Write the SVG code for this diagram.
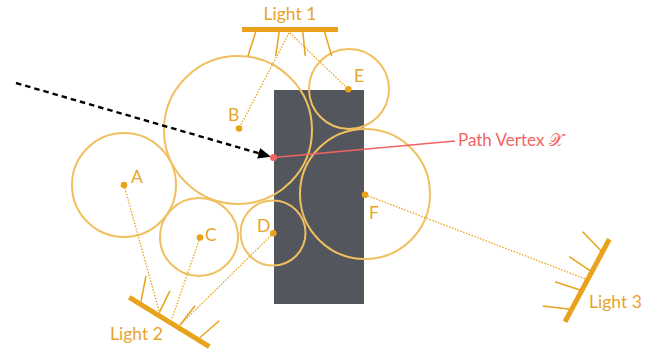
<svg xmlns="http://www.w3.org/2000/svg" width="657" height="350" viewBox="0 0 657 350">
<defs>
<style>
.lbl{font-family:Lato,"Open Sans","Liberation Sans",sans-serif;font-size:17.5px;fill:#e8a42a}
.circ{fill:none;stroke:#f0c060;stroke-width:2}
.dot{fill:#e8a21c}
.bar{stroke:#e8a21c;stroke-width:5;stroke-linecap:butt}
.tick{stroke:#e8a21c;stroke-width:1.5}
.ray{stroke:#e8a21c;stroke-width:1.3;stroke-dasharray:1.5 1.5;fill:none}
</style>
<marker id="ah2" viewBox="0 0 12 10" refX="11" refY="5" markerWidth="13" markerHeight="11" orient="auto" markerUnits="userSpaceOnUse">
<path d="M0,0 L12,5 L0,10 z" fill="#000"/>
</marker>
</defs>
<rect width="657" height="350" fill="#fff"/>
<g id="occluder"><rect x="274" y="90" width="90" height="214" fill="#53565c"/></g>
<g id="circleA"><circle class="circ" cx="124" cy="185" r="52"/><circle class="dot" cx="124" cy="185" r="3.3"/><text class="lbl" x="131" y="183">A</text></g>
<g id="circleB"><circle class="circ" cx="238" cy="130" r="74"/><circle class="dot" cx="239" cy="128.5" r="3.3"/><text class="lbl" x="228" y="121">B</text></g>
<g id="circleC"><circle class="circ" cx="199" cy="237" r="39"/><circle class="dot" cx="200" cy="237.5" r="3.3"/><text class="lbl" x="205" y="241">C</text></g>
<g id="circleD"><circle class="circ" cx="273" cy="233" r="32.5"/><circle class="dot" cx="273.3" cy="233.3" r="3.3"/><text class="lbl" x="257" y="232">D</text></g>
<g id="circleE"><circle class="circ" cx="349" cy="89" r="40"/><circle class="dot" cx="348.3" cy="89.3" r="3.3"/><text class="lbl" x="354" y="82">E</text></g>
<g id="circleF"><circle class="circ" cx="365" cy="194" r="65"/><circle class="dot" cx="365" cy="194.7" r="3.3"/><text class="lbl" x="369" y="219">F</text></g>
<g id="light1">
<line class="bar" x1="242" y1="29.5" x2="338" y2="29.5"/>
<line class="tick" x1="256" y1="31" x2="248" y2="56"/>
<line class="tick" x1="279.3" y1="31" x2="275.7" y2="56"/>
<line class="tick" x1="302.7" y1="31" x2="305.3" y2="56"/>
<line class="tick" x1="324.3" y1="31" x2="331.7" y2="56"/>
<text class="lbl" x="290" y="20" text-anchor="middle">Light 1</text>
</g>
<g id="light2">
<line class="bar" x1="129.3" y1="297.3" x2="209.3" y2="346.7"/>
<line class="tick" x1="141" y1="301.7" x2="146" y2="276"/>
<line class="tick" x1="159.3" y1="312.7" x2="170" y2="290.7"/>
<line class="tick" x1="180" y1="325" x2="195" y2="305.7"/>
<line class="tick" x1="200" y1="337.5" x2="219.3" y2="320.7"/>
<text class="lbl" x="110" y="340">Light 2</text>
</g>
<g id="light3">
<line class="bar" x1="609.3" y1="239.3" x2="565" y2="321.7"/>
<line class="tick" x1="601" y1="250.7" x2="582.7" y2="231.7"/>
<line class="tick" x1="590" y1="270.7" x2="569.3" y2="256.7"/>
<line class="tick" x1="580" y1="290" x2="555" y2="281.7"/>
<line class="tick" x1="570" y1="309.3" x2="542.7" y2="306"/>
<text class="lbl" x="589" y="308">Light 3</text>
</g>
<g id="connectors">
<line class="ray" x1="289" y1="33" x2="239" y2="128.5"/>
<line class="ray" x1="290" y1="33" x2="348.3" y2="89.3"/>
<line class="ray" x1="124" y1="185" x2="159.3" y2="311.7"/>
<line class="ray" x1="200" y1="237.5" x2="171.7" y2="319.3"/>
<line class="ray" x1="273.3" y1="233.3" x2="180" y2="325"/>
<line class="ray" x1="365" y1="194.7" x2="586.7" y2="279.3"/>
<line x1="16" y1="83" x2="270" y2="156.5" stroke="#000" stroke-width="2.4" stroke-dasharray="5.5 4" marker-end="url(#ah2)"/>
<line x1="273.5" y1="157.5" x2="455" y2="141" stroke="#f26464" stroke-width="1.3"/>
</g>
<g id="pathVertex">
<circle cx="273.5" cy="157.5" r="3.5" fill="#f26464"/>
<text x="458" y="146" font-family="Lato,'Open Sans','Liberation Sans',sans-serif" font-size="17" fill="#f26464">Path Vertex <tspan font-family="'DejaVu Serif','Noto Sans',serif">𝒳</tspan></text>
</g>
</svg>
